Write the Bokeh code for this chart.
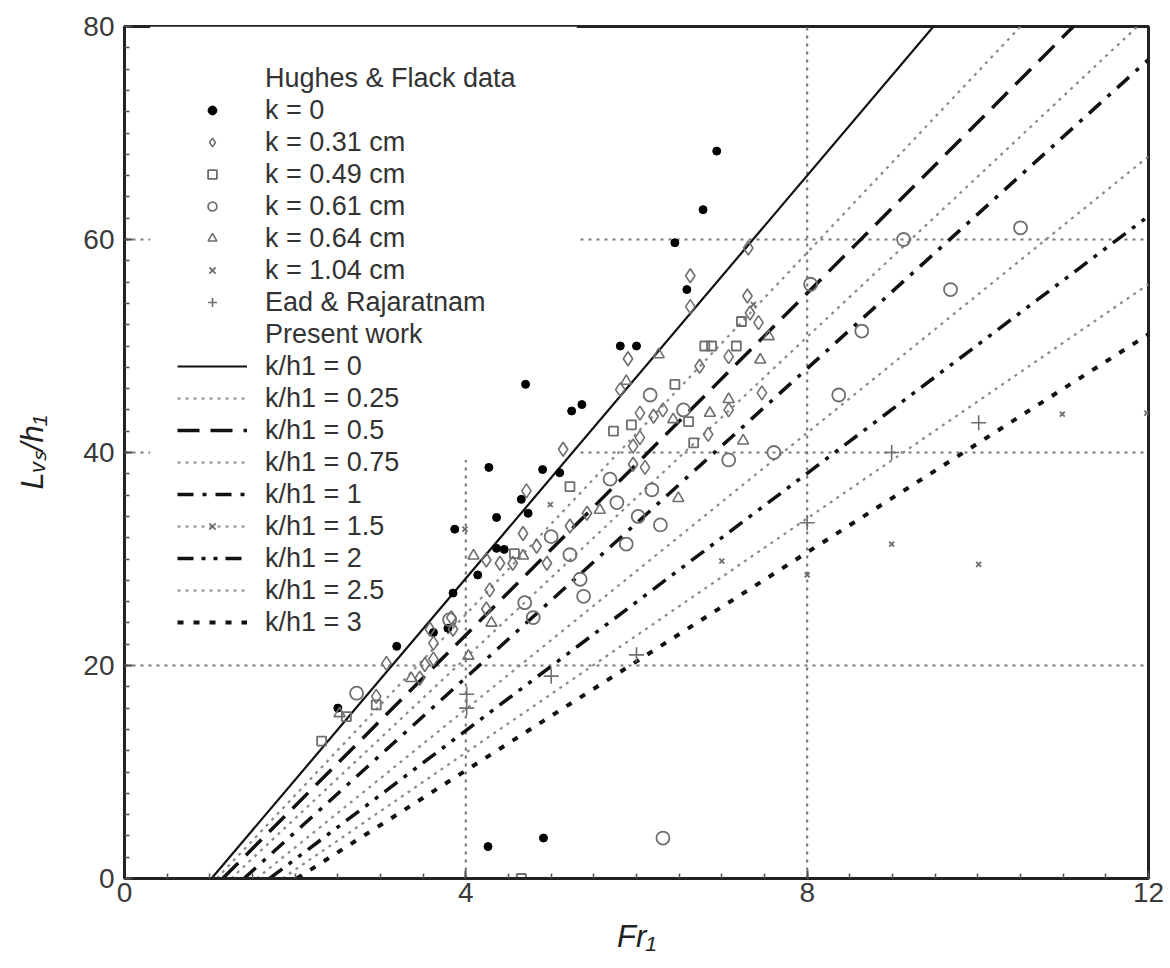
import numpy as np
from bokeh.plotting import figure
from bokeh.models import FixedTicker, Legend, LegendItem
from bokeh.embed import file_html
from bokeh.resources import INLINE

# ---------------- data ----------------
x_major = [0, 4, 8, 12]
y_major = [0, 20, 40, 60, 80]

# Hughes & Flack data
k0_fr = [6.94, 6.78, 6.45, 6.59, 5.81, 6.00, 4.70, 5.24, 5.36, 4.27, 4.90, 5.10, 4.65, 4.36,
         4.73, 3.87, 4.36, 4.14, 3.85, 3.62, 3.79, 2.50, 3.19, 4.26, 4.91, 4.45]
k0_l = [68.3, 62.8, 59.7, 55.3, 50.0, 50.0, 46.4, 43.9, 44.5, 38.6, 38.4, 38.1, 35.6, 33.9,
        34.3, 32.8, 31.0, 28.5, 26.8, 23.1, 23.5, 16.0, 21.8, 3.0, 3.8, 30.9]

k031_fr = [7.31, 7.30, 6.63, 6.63, 7.43, 7.33, 7.08, 6.74, 5.81, 5.90, 6.04, 6.20, 6.31, 6.04,
           5.96, 5.96, 6.10, 5.14, 4.71, 7.08, 7.47, 5.42, 5.22, 4.67, 4.83, 4.95, 4.55, 4.40,
           4.24, 4.28, 3.83, 3.62, 2.95, 3.46, 3.62, 3.85, 3.58, 3.07, 3.52, 4.24, 6.84]
k031_l = [59.2, 54.7, 56.6, 53.7, 52.2, 53.1, 49.0, 48.1, 45.9, 48.8, 43.7, 43.4, 44.0, 41.4,
          40.6, 38.9, 38.6, 40.3, 36.4, 44.0, 45.6, 34.3, 33.1, 32.4, 31.2, 29.6, 29.6, 29.6,
          29.9, 27.1, 24.5, 22.1, 17.1, 18.8, 20.6, 23.4, 23.4, 20.2, 20.1, 25.3, 41.7]

k049_fr = [5.94, 6.80, 6.88, 7.17, 7.23, 6.45, 6.61, 6.67, 5.22, 2.31, 2.95, 2.60, 4.65, 4.57, 5.73]
k049_l = [42.6, 50.0, 50.0, 50.0, 52.3, 46.4, 42.9, 40.9, 36.8, 12.9, 16.3, 15.2, 0.0, 30.5, 42.0]

k061_fr = [10.50, 9.13, 9.68, 8.64, 8.37, 7.61, 8.04, 6.16, 5.69, 5.77, 6.02, 6.28, 5.38, 5.88,
           4.79, 4.69, 3.81, 5.00, 5.22, 5.34, 7.08, 6.18, 6.55, 6.31, 2.72]
k061_l = [61.1, 60.0, 55.3, 51.4, 45.4, 40.0, 55.8, 45.4, 37.5, 35.3, 34.0, 33.2, 26.5, 31.4,
          24.5, 25.9, 24.3, 32.1, 30.4, 28.1, 39.3, 36.5, 44.0, 3.8, 17.4]

k064_fr = [7.45, 7.55, 7.25, 6.86, 6.43, 7.08, 6.49, 4.30, 4.09, 4.67, 5.57, 3.36, 4.03, 2.52, 6.26, 5.88]
k064_l = [48.7, 50.9, 41.1, 43.7, 43.1, 45.0, 35.7, 24.0, 30.3, 30.3, 34.6, 18.8, 20.9, 15.5, 49.2, 46.7]

k104_fr = [10.99, 8.99, 10.01, 11.98, 8.00, 4.99, 3.99, 7.37, 7.00]
k104_l = [43.6, 31.4, 29.5, 43.7, 28.5, 35.1, 32.8, 53.9, 29.8]

# Ead & Rajaratnam
ead_fr = [10.01, 8.99, 8.00, 6.00, 5.00, 4.01, 4.01]
ead_l = [42.8, 40.0, 33.4, 21.0, 19.0, 17.3, 16.0]

# Present work (straight lines)
line_labels = ["k/h1 = 0", "k/h1 = 0.25", "k/h1 = 0.5", "k/h1 = 0.75", "k/h1 = 1",
               "k/h1 = 1.5", "k/h1 = 2", "k/h1 = 2.5", "k/h1 = 3"]
line_fr0 = [1.02, 1.08, 1.15, 1.25, 1.40, 1.55, 1.70, 1.85, 2.02]
line_l0 = [0, 0, 0, 0, 0, 0, 0, 0, 0]
line_fr1 = [9.48, 10.50, 11.12, 11.87, 12.0, 12.0, 12.0, 12.0, 12.0]
line_l1 = [80.0, 80.0, 80.0, 80.0, 76.9, 67.8, 62.2, 55.8, 51.1]

# ---------------- styles ----------------
line_styles = [
    dict(line_color="#111111", line_width=2.2, line_dash="solid"),
    dict(line_color="#8a8a8a", line_width=2.2, line_dash="3 5"),
    dict(line_color="#111111", line_width=3.5, line_dash="22 11"),
    dict(line_color="#8a8a8a", line_width=2.2, line_dash="3 5"),
    dict(line_color="#111111", line_width=3.5, line_dash="16 9 4 9"),
    dict(line_color="#8a8a8a", line_width=2.2, line_dash="3 5"),
    dict(line_color="#111111", line_width=3.5, line_dash="16 8 4 8 4 8"),
    dict(line_color="#8a8a8a", line_width=2.2, line_dash="3 5"),
    dict(line_color="#111111", line_width=4.0, line_dash="6 10"),
]

p = figure(width=1168, height=964, x_range=(0, 12), y_range=(0, 80),
           output_backend="svg", toolbar_location=None,
           min_border_left=124, min_border_right=20, min_border_top=26, min_border_bottom=86)

p.xgrid.visible = False
p.ygrid.visible = False
p.outline_line_color = "#222222"
p.outline_line_width = 3
p.outline_line_alpha = 1.0

# grid (dotted) drawn as segments spanning the full range
grid_col = "#7a7a7a"
p.segment(x0=x_major[1:3], y0=[0, 0], x1=x_major[1:3], y1=[80, 80],
          line_color=grid_col, line_width=2.2, line_dash="3 5")
p.segment(x0=[0, 0, 0], y0=y_major[1:4], x1=[12, 12, 12], y1=y_major[1:4],
          line_color=grid_col, line_width=2.2, line_dash="3 5")
# opaque legend background area (hides the grid behind the legend, as in the original)
p.quad(left=[0.3], right=[5.3], bottom=[39.3], top=[80], fill_color="white",
       line_color=None)

line_renderers = []
for i in range(len(line_labels)):
    r = p.line([line_fr0[i], line_fr1[i]], [line_l0[i], line_l1[i]], **line_styles[i])
    line_renderers.append(r)

gray = "#6e6e6e"
r_k0 = p.scatter(k0_fr, k0_l, marker="circle", size=8, fill_color="#000000", line_color="#000000")
r_k031 = p.scatter(k031_fr, k031_l, marker="diamond", size=14, fill_alpha=0,
                   line_color=gray, line_width=1.6)
r_k049 = p.scatter(k049_fr, k049_l, marker="square", size=9, fill_alpha=0,
                   line_color=gray, line_width=1.8)
r_k061 = p.scatter(k061_fr, k061_l, marker="circle", size=13, fill_alpha=0,
                   line_color=gray, line_width=1.8)
r_k064 = p.scatter(k064_fr, k064_l, marker="triangle", size=11, fill_alpha=0,
                   line_color=gray, line_width=1.6)
r_k104 = p.scatter(k104_fr, k104_l, marker="x", size=7, line_color=gray, line_width=1.8)
r_ead = p.scatter(ead_fr, ead_l, marker="cross", size=15, line_color=gray, line_width=1.6)

r_blank = p.scatter([], [], marker="circle", size=1, alpha=0)

# ---------------- axes ----------------
p.xaxis.ticker = FixedTicker(ticks=x_major, minor_ticks=list(np.arange(0, 12.01, 0.5)))
p.yaxis.ticker = FixedTicker(ticks=y_major, minor_ticks=list(np.arange(0, 80.01, 2)))
for ax in (p.xaxis[0], p.yaxis[0]):
    ax.axis_line_width = 3
    ax.axis_line_color = "#222222"
    ax.major_tick_in = 8
    ax.major_tick_out = 0
    ax.minor_tick_in = 5
    ax.minor_tick_out = 0
    ax.major_tick_line_width = 2
    ax.minor_tick_line_width = 1.5
    ax.major_tick_line_color = "#444444"
    ax.minor_tick_line_color = "#555555"
    ax.major_label_text_font = "Liberation Sans"
    ax.major_label_text_font_size = "28px"
    ax.major_label_text_color = "#3a3a3a"
    ax.axis_label_text_font = "Liberation Sans"
    ax.axis_label_text_font_style = "italic"
    ax.axis_label_text_font_size = "31px"
    ax.axis_label_text_color = "#222222"

p.xaxis.axis_label = "Fr\u2081"
p.yaxis.axis_label = "L\u1d65\u209b/h\u2081"
p.xaxis.major_label_standoff = 4
p.yaxis.major_label_standoff = 10
p.xaxis.axis_label_standoff = 14
p.yaxis.axis_label_standoff = 30

# ---------------- legend ----------------
items = [
    LegendItem(label="Hughes & Flack data", renderers=[r_blank]),
    LegendItem(label="k = 0", renderers=[r_k0]),
    LegendItem(label="k = 0.31 cm", renderers=[r_k031]),
    LegendItem(label="k = 0.49 cm", renderers=[r_k049]),
    LegendItem(label="k = 0.61 cm", renderers=[r_k061]),
    LegendItem(label="k = 0.64 cm", renderers=[r_k064]),
    LegendItem(label="k = 1.04 cm", renderers=[r_k104]),
    LegendItem(label="Ead & Rajaratnam", renderers=[r_ead]),
    LegendItem(label="Present work", renderers=[r_blank]),
]
for i, lab in enumerate(line_labels):
    rs = [line_renderers[i]]
    if i == 5:
        rs.append(r_k104)
    items.append(LegendItem(label=lab, renderers=rs))

legend = Legend(items=items, location=(53, 240), padding=0, margin=0, spacing=0,
                glyph_width=70, glyph_height=22, label_height=32, label_standoff=18,
                label_text_font="Liberation Sans", label_text_font_size="27px",
                label_text_color="#333333", border_line_alpha=0, background_fill_alpha=0)
p.add_layout(legend)

open("out.html", "w").write(file_html(p, INLINE))
